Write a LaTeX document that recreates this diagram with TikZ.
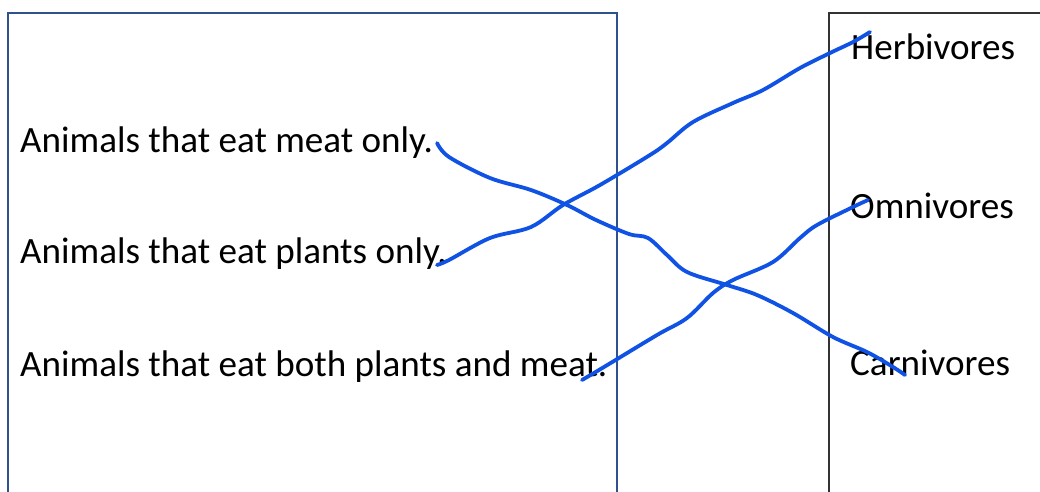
\documentclass[tikz,border=0pt]{standalone}
\usepackage{fontspec}
\setmainfont{Carlito}
\definecolor{boxblue}{RGB}{47,82,143}
\definecolor{ink}{RGB}{16,82,228}
\tikzset{
  lbl/.style={anchor=base west, inner sep=0pt, font=\fontsize{37.1}{40}\selectfont},
  pen/.style={draw=ink, line width=3.8pt, line cap=round, line join=round},
}
\begin{document}
\begin{tikzpicture}[x=1pt,y=-1pt]
\useasboundingbox (0,0) rectangle (1040,491);
\fill[white] (0,0) rectangle (1040,491);
\begin{scope}
\clip (0,0) rectangle (1040,491);
\draw[boxblue, line width=2.2pt] (8,13) rectangle (617,520);
\draw[black!80, line width=1.3pt] (829,13) rectangle (1060,520);
\end{scope}
\node[lbl] (meat) at (20,152) {Animals that eat meat only.};
\node[lbl] (plants) at (20,263) {Animals that eat plants only.};
\node[lbl] (both) at (20,376) {Animals that eat both plants and meat.};
\node[lbl] (herb) at (851,59) {Herbivores};
\node[lbl] (omni) at (850,218) {Omnivores};
\node[lbl] (carn) at (850,375) {Carnivores};
\coordinate (s1) at (437,143);
\coordinate (e1) at (905,375);
\coordinate (s2) at (437,265);
\coordinate (e2) at (870,32);
\coordinate (s3) at (582,380);
\coordinate (e3) at (868,200);
\draw[pen] plot[smooth, tension=0.55] coordinates {(s1) (449,157) (490,178) (531,190) (567,205) (596,220) (629,234) (648,238) (667,255) (687,272) (727,285) (757,295) (793,313) (833,337) (867,352) (893,367) (e1)};
\draw[pen] plot[smooth, tension=0.55] coordinates {(s2) (449,260) (490,238) (531,227) (563,205) (600,185) (650,155) (667,143) (693,122) (733,103) (763,90) (800,68) (830,53) (853,42) (e2)};
\draw[pen] plot[smooth, tension=0.55] coordinates {(s3) (604,367) (657,335) (687,318) (713,293) (733,280) (773,262) (800,238) (817,225) (853,207) (e3)};
\end{tikzpicture}
\end{document}
